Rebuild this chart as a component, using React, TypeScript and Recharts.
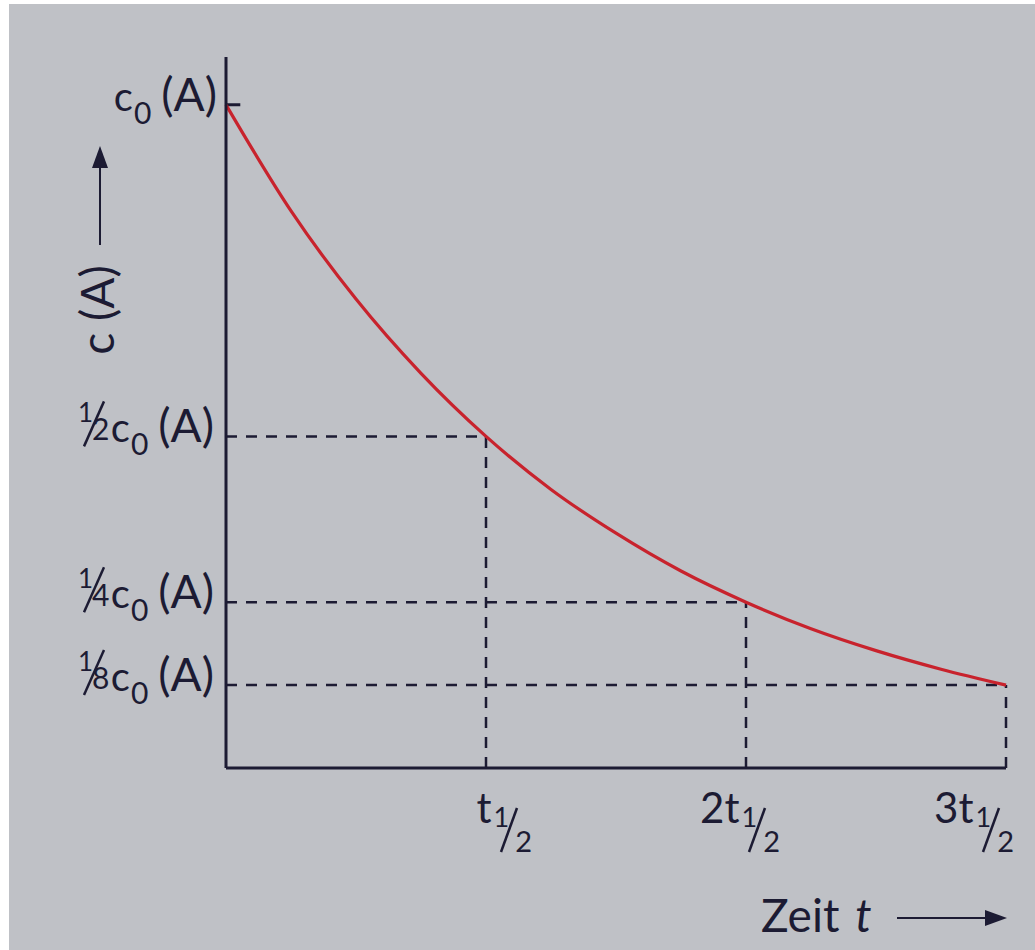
import { LineChart, Line, XAxis, YAxis, ReferenceLine } from 'recharts';

// time in multiples of the half-life, concentration as fraction of c0
const times = [0, 0.25, 0.5, 0.75, 1, 1.25, 1.5, 1.75, 2, 2.25, 2.5, 2.75, 3];
const concentrations = [1, 0.84, 0.707, 0.595, 0.5, 0.42, 0.354, 0.297, 0.25, 0.21, 0.177, 0.149, 0.125];

const halfLifeTicks = [1, 2, 3];
const halfLifeLevels = [0.5, 0.25, 0.125];
const yTicks = [0.125, 0.25, 0.5, 1];

// denominator of the fraction in front of c0 (null = plain c0)
const yTickFractions: Record<number, string | null> = { 1: null, 0.5: '2', 0.25: '4', 0.125: '8' };

const data = times.map((t, i) => ({ t, c: concentrations[i] }));

const INK = '#1c1b33';
const RED = '#c8232d';
const FONT = 'Lato, "Open Sans", sans-serif';

// how far the end of each x tick label sits right of its tick
const xLabelShift = [46, 34, 8];

function CZeroA({ x, y }: { x: number; y: number }) {
  return (
    <text x={x} y={y + 6} textAnchor="end" fontFamily={FONT} fontSize={40} fill={INK}>
      c
      <tspan fontSize={30} dy={13} dx={1}>0</tspan>
      <tspan fontSize={46} dy={-13} dx={10}>(A)</tspan>
    </text>
  );
}

function YTick(props: any) {
  const { x, y, payload } = props;
  const denom = yTickFractions[payload.value];
  if (!denom) return <CZeroA x={x - 1} y={y} />;
  return (
    <g>
      <text x={x - 140} y={y - 14} fontFamily={FONT} fontSize={26} fill={INK}>1</text>
      <line x1={x - 134} y1={y + 10} x2={x - 114} y2={y - 35} stroke={INK} strokeWidth={2.5} />
      <text x={x - 126} y={y + 4} fontFamily={FONT} fontSize={30} fill={INK}>{denom}</text>
      <CZeroA x={x - 4} y={y} />
    </g>
  );
}

function XTick(props: any) {
  const { x, y, payload, index } = props;
  const n = payload.value;
  const end = x + xLabelShift[index ?? 0];
  const base = y + 47;
  return (
    <g>
      <text x={end} y={base} textAnchor="end" fontFamily={FONT} fontSize={42} fill={INK}>
        {n > 1 ? `${n}t` : 't'}
        <tspan fontSize={27} dy={4} dx={2}>1</tspan>
        <tspan fontSize={29} dy={25} dx={6}>2</tspan>
      </text>
      <line x1={end - 31} y1={base + 29} x2={end - 15} y2={base - 15} stroke={INK} strokeWidth={2.5} />
    </g>
  );
}

function YLabel(props: any) {
  const { viewBox } = props;
  const cx = viewBox.x + 100;
  return (
    <g>
      <text
        x={cx - 4}
        y={310}
        transform={`rotate(-90 ${cx - 4} 310)`}
        textAnchor="middle"
        dominantBaseline="central"
        fontFamily={FONT}
        fontSize={46}
        fill={INK}
      >
        c (A)
      </text>
      <line x1={cx} y1={245} x2={cx} y2={164} stroke={INK} strokeWidth={2} />
      <path d={`M ${cx - 8} 168 L ${cx} 146 L ${cx + 8} 168 Z`} fill={INK} />
    </g>
  );
}

function XLabel(props: any) {
  const { viewBox } = props;
  const right = viewBox.x + viewBox.width + 1;
  return (
    <g>
      <text x={761} y={932} fontFamily={FONT} fontSize={46} fill={INK}>
        Zeit <tspan fontStyle="italic" dx={4}>t</tspan>
      </text>
      <line x1={897} y1={918} x2={right - 16} y2={918} stroke={INK} strokeWidth={2} />
      <path d={`M ${right - 22} 910 L ${right} 918 L ${right - 22} 926 Z`} fill={INK} />
    </g>
  );
}

export default function App() {
  return (
    <div style={{ position: 'absolute', left: 0, top: 0, width: 1035, height: 950, background: '#ffffff' }}>
      <div style={{ position: 'absolute', left: 9, top: 4, right: 0, bottom: 0, background: '#bfc1c6' }} />
      <div style={{ position: 'absolute', left: 0, top: 0 }}>
        <LineChart width={1035} height={950} data={data} margin={{ top: 57, right: 29, bottom: 0, left: 0 }}>
          <XAxis
            dataKey="t"
            type="number"
            domain={[0, 3]}
            ticks={halfLifeTicks}
            tickLine={false}
            axisLine={{ stroke: INK, strokeWidth: 3 }}
            tick={<XTick />}
            height={182}
            label={<XLabel />}
          />
          <YAxis
            type="number"
            domain={[0, 1.072]}
            ticks={yTicks}
            tickLine={false}
            axisLine={{ stroke: INK, strokeWidth: 3 }}
            tick={<YTick />}
            width={226}
            label={<YLabel />}
          />
          {halfLifeLevels.map((level, i) => (
            <ReferenceLine
              key={`h${i}`}
              segment={[{ x: 0, y: level }, { x: halfLifeTicks[i], y: level }]}
              stroke={INK}
              strokeWidth={2.5}
              strokeDasharray="11 9"
            />
          ))}
          {halfLifeTicks.map((t, i) => (
            <ReferenceLine
              key={`v${i}`}
              segment={[{ x: t, y: 0 }, { x: t, y: halfLifeLevels[i] }]}
              stroke={INK}
              strokeWidth={2.5}
              strokeDasharray="11 9"
            />
          ))}
          <ReferenceLine segment={[{ x: 0, y: 1 }, { x: 0.055, y: 1 }]} stroke={INK} strokeWidth={3} />
          <Line
            type="monotone"
            dataKey="c"
            stroke={RED}
            strokeWidth={3.2}
            dot={false}
            activeDot={false}
            isAnimationActive={false}
          />
        </LineChart>
      </div>
    </div>
  );
}
